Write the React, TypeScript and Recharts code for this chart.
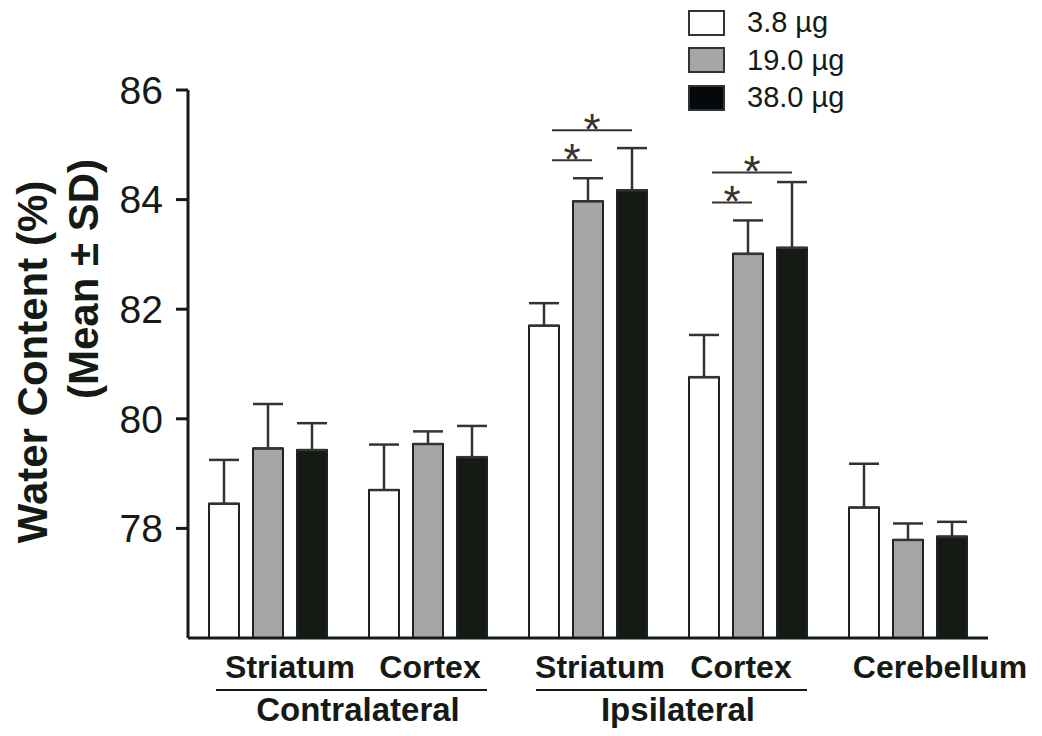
import { BarChart, Bar, XAxis, YAxis, ErrorBar, Legend, Rectangle } from 'recharts'

const FONT = '"Liberation Sans", Arial, sans-serif'
const INK = '#151a15'

// categories along x
const regionKeys = ['c-str', 'c-ctx', 'i-str', 'i-ctx', 'cer']
const regionLabels = ['Striatum', 'Cortex', 'Striatum', 'Cortex', 'Cerebellum']
const groups = [
  { label: 'Contralateral', first: 0 },
  { label: 'Ipsilateral', first: 2 },
]

// doses
const doseNames = ['3.8 µg', '19.0 µg', '38.0 µg']
const doseFills = ['#ffffff', '#a6a6a6', '#141a14']
const legendFills = ['#ffffff', '#a6a6a6', '#05090c']

// water content (%), mean and SD
const lowMean = [78.45, 78.70, 81.70, 80.76, 78.38]
const lowSd = [0.80, 0.83, 0.41, 0.77, 0.80]
const midMean = [79.46, 79.54, 83.97, 83.01, 77.79]
const midSd = [0.81, 0.23, 0.42, 0.61, 0.30]
const highMean = [79.43, 79.30, 84.17, 83.12, 77.85]
const highSd = [0.49, 0.57, 0.77, 1.20, 0.27]
const significant = [false, false, true, true, false]

const yTicks = [78, 80, 82, 84, 86]
const Y_MIN = 76

const data = regionKeys.map((key, i) => ({
  key,
  label: regionLabels[i],
  low: lowMean[i], lowSd: lowSd[i],
  mid: midMean[i], midSd: midSd[i],
  high: highMean[i], highSd: highSd[i],
  sig: significant[i],
}))

const W = 1042
const H = 736
const margin = { top: 90, right: 54, bottom: 0, left: 88 }
const Y_AXIS_W = 100
const BAND = (W - margin.left - margin.right - Y_AXIS_W) / regionKeys.length

// small label nudges to sit like the original
const labelNudge = [22, 2, 12, -7, 32]

function RegionTick({ x, y, payload, index }: any) {
  const i = payload?.index ?? index
  const group = groups.find(g => g.first === i)
  return (
    <g>
      <text x={x + labelNudge[i]} y={y + 40} textAnchor="middle" fontFamily={FONT}
        fontWeight={700} fontSize={32} fill={INK}>
        {regionLabels[i]}
      </text>
      {group && (
        <g>
          <line x1={x - 52} x2={x + BAND + 59} y1={y + 52} y2={y + 52} stroke={INK} strokeWidth={2} />
          <text x={x + BAND / 2 + 10} y={y + 83} textAnchor="middle" fontFamily={FONT}
            fontWeight={700} fontSize={33} fill={INK}>
            {group.label}
          </text>
        </g>
      )}
    </g>
  )
}

function AxisTitle() {
  return (
    <g fontFamily={FONT} fontWeight={700} fontSize={42} fill={INK}>
      <text x={47} y={362} textAnchor="middle" transform="rotate(-90, 47, 362)">Water Content (%)</text>
      <text x={98} y={279} textAnchor="middle" transform="rotate(-90, 98, 279)">(Mean ± SD)</text>
    </g>
  )
}

// gray bar also carries the significance brackets
function MidBar(props: any) {
  const { x, y, width, height, payload } = props
  const h = Math.abs(height)
  const capY = y - payload.midSd * h / (payload.mid - Y_MIN)
  const shortY = capY - 18
  const longY = shortY - 30
  const sx1 = x - 21, sx2 = x + 19
  const lx1 = x - 21, lx2 = x + 59
  return (
    <g>
      <Rectangle {...props} />
      {payload.sig && (
        <g stroke="#333" strokeWidth={2}>
          <line x1={sx1} x2={sx2} y1={shortY} y2={shortY} />
          <line x1={lx1} x2={lx2} y1={longY} y2={longY} />
          <text x={(sx1 + sx2) / 2} y={shortY + 15} textAnchor="middle" stroke="none"
            fill="#333" fontFamily={FONT} fontSize={44}>*</text>
          <text x={(lx1 + lx2) / 2} y={longY + 15} textAnchor="middle" stroke="none"
            fill="#333" fontFamily={FONT} fontSize={44}>*</text>
        </g>
      )}
    </g>
  )
}

function DoseLegend() {
  return (
    <div style={{ fontFamily: FONT }}>
      {doseNames.map((name, i) => (
        <div key={name} style={{ display: 'flex', alignItems: 'center', height: 37.5 }}>
          <div style={{
            width: 33, height: 22, background: legendFills[i],
            border: '2px solid #333',
          }} />
          <span style={{ marginLeft: 22, fontSize: 29, color: INK }}>{name}</span>
        </div>
      ))}
    </div>
  )
}

export default function App() {
  return (
    <div style={{ position: 'absolute', left: 0, top: 0, width: W, height: H, background: '#fff' }}>
      <BarChart width={W} height={H} data={data} margin={margin} barSize={30} barGap={14}>
        <XAxis
          dataKey="key"
          height={98}
          interval={0}
          tickLine={false}
          tickSize={0}
          tickMargin={0}
          tick={<RegionTick />}
          axisLine={{ stroke: INK, strokeWidth: 3 }}
        />
        <YAxis
          domain={[Y_MIN, 86]}
          ticks={yTicks}
          width={Y_AXIS_W}
          tickSize={12}
          tickMargin={13}
          axisLine={{ stroke: INK, strokeWidth: 3 }}
          tickLine={{ stroke: INK, strokeWidth: 3 }}
          tick={{ fontSize: 39, fill: INK, fontFamily: FONT }}
          label={<AxisTitle />}
        />
        <Legend
          layout="vertical"
          align="center"
          verticalAlign="middle"
          content={<DoseLegend />}
          wrapperStyle={{ top: 4, left: 688, width: 200 }}
        />
        <Bar dataKey="low" name={doseNames[0]} fill={doseFills[0]} stroke="#222" strokeWidth={2} isAnimationActive={false}>
          <ErrorBar dataKey={(d: any) => [0, d.lowSd]} width={15} stroke="#333" strokeWidth={2.5} direction="y" />
        </Bar>
        <Bar dataKey="mid" name={doseNames[1]} fill={doseFills[1]} stroke="#222" strokeWidth={2}
          isAnimationActive={false} shape={(p: any) => <MidBar {...p} />}>
          <ErrorBar dataKey={(d: any) => [0, d.midSd]} width={15} stroke="#333" strokeWidth={2.5} direction="y" />
        </Bar>
        <Bar dataKey="high" name={doseNames[2]} fill={doseFills[2]} stroke="#222" strokeWidth={2} isAnimationActive={false}>
          <ErrorBar dataKey={(d: any) => [0, d.highSd]} width={15} stroke="#333" strokeWidth={2.5} direction="y" />
        </Bar>
      </BarChart>
    </div>
  )
}
